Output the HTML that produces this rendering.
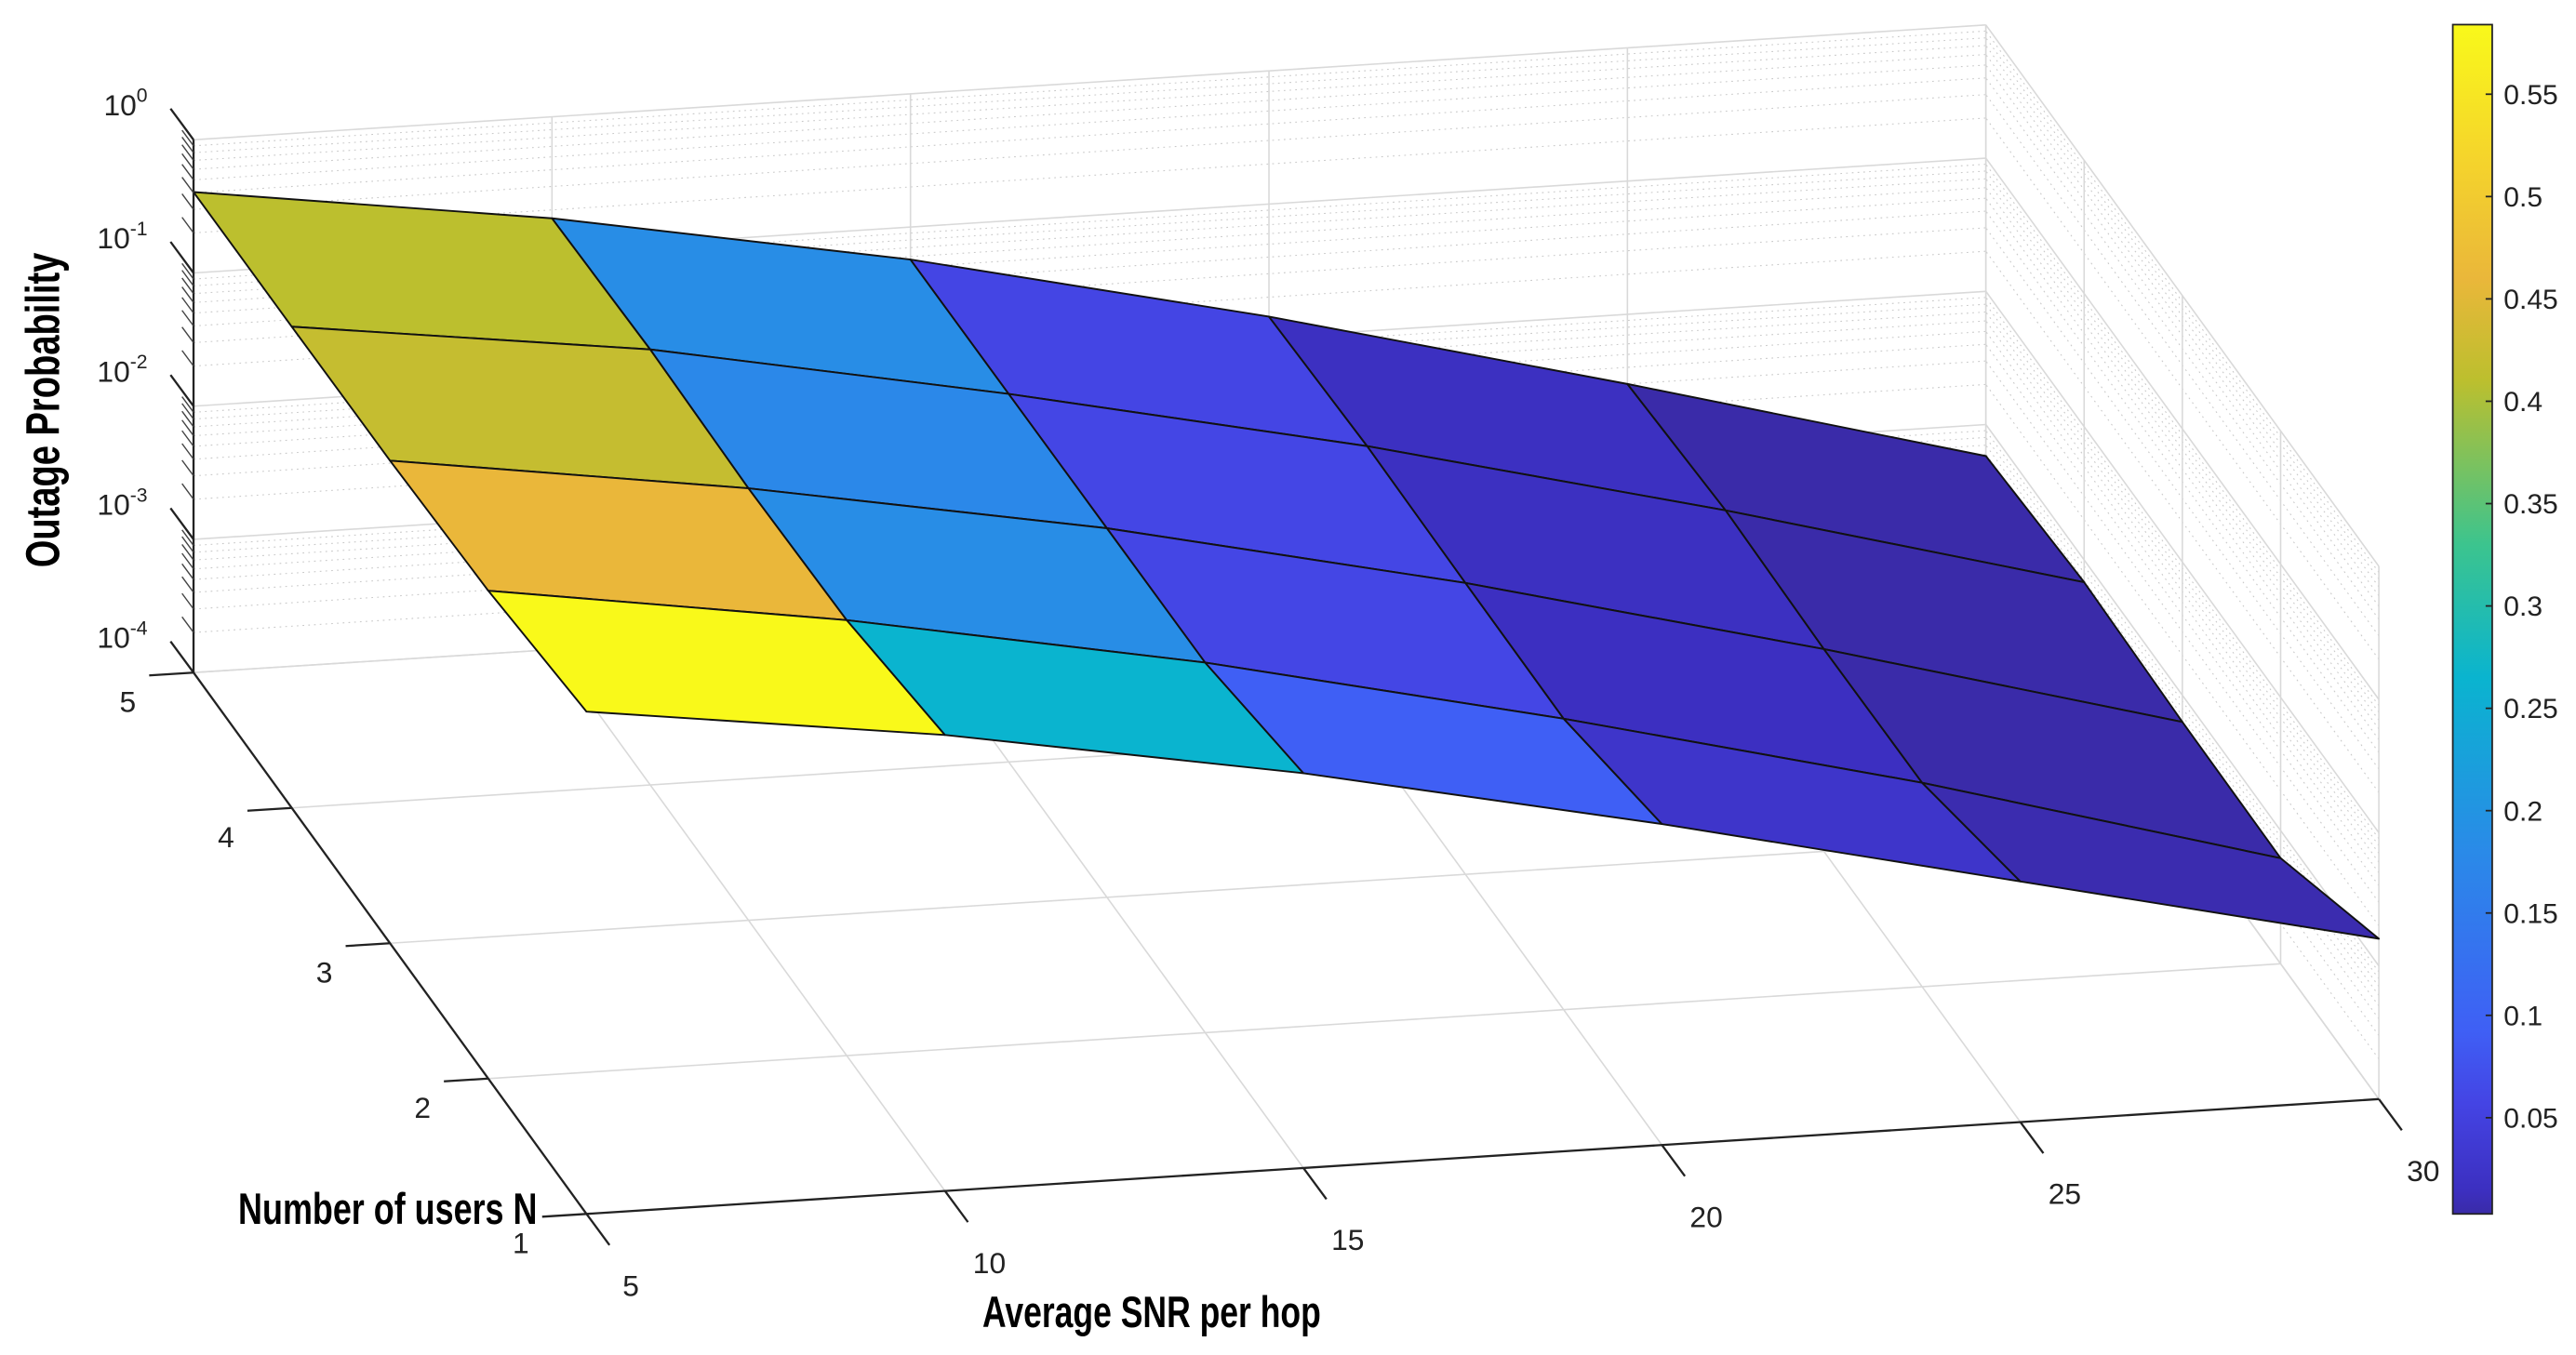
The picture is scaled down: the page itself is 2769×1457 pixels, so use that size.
<!DOCTYPE html>
<html><head><meta charset="utf-8">
<style>
html,body{margin:0;padding:0;background:#fff;}
svg{display:block;}
text{font-family:"Liberation Sans",sans-serif;}
.ttl{font-family:"Liberation Sans Narrow","Liberation Sans",sans-serif;font-weight:bold;}
</style></head>
<body>
<svg id="chart" xmlns="http://www.w3.org/2000/svg" width="2769" height="1457" viewBox="0 0 1568 826" preserveAspectRatio="none">
<defs>
<linearGradient id="parula" x1="0" y1="1" x2="0" y2="0"></linearGradient>
</defs>
<g id="grid"></g>
<g id="surface"></g>
<g id="axes"></g>
<text class="ttl" transform="translate(36,250) rotate(-90)" text-anchor="middle" font-size="29" textLength="192" lengthAdjust="spacingAndGlyphs">Outage Probability</text>
<text class="ttl" x="145" y="746" font-size="27" textLength="182" lengthAdjust="spacingAndGlyphs">Number of users N</text>
<text class="ttl" x="598" y="809" font-size="27" textLength="206" lengthAdjust="spacingAndGlyphs">Average SNR per hop</text>
<g id="cbar"></g>
</svg>
<script>
const snrValues = [5, 10, 15, 20, 25, 30];
const userValues = [1, 2, 3, 4, 5];
// outage probability P[N index][SNR index]
const outageN1 = [0.59, 0.265, 0.092, 0.0257, 0.0064, 0.0016];
const outageN2 = [0.46, 0.186, 0.060, 0.0153, 0.0034, 0.00062];
const outageN3 = [0.42, 0.175, 0.059, 0.0154, 0.0033, 0.00063];
const outageN4 = [0.41, 0.186, 0.058, 0.0158, 0.0035, 0.00068];
const outageN5 = [0.405, 0.173, 0.057, 0.0143, 0.0030, 0.00058];
const zTickExp = [0, -1, -2, -3, -4];
const cbarTicks = [0.05, 0.1, 0.15, 0.2, 0.25, 0.3, 0.35, 0.4, 0.45, 0.5, 0.55];
const cLim = [0.003, 0.584];
const cmapStops = [0.003, 0.0143, 0.057, 0.092, 0.18, 0.265, 0.33, 0.41, 0.46, 0.52, 0.584];
const cmapColors = ['#3a2ba8', '#3c2fc0', '#4444e4', '#3f5ff5', '#2a8ae8', '#0ab4cf', '#3cc48e', '#bcbf2e', '#eab73a', '#f5d52b', '#f9f91a'];

const rows = [outageN1, outageN2, outageN3, outageN4, outageN5];
const NS = 'http://www.w3.org/2000/svg';
function P(x, n, lz) {
  return [357 + (x - 5) / 5 * 218.2 - (n - 1) * 59.8,
          740 - (x - 5) / 5 * 14 - (n - 1) * 82.5 - (lz + 4) * 81.2];
}
function mk(tag, attrs, parent) {
  const e = document.createElementNS(NS, tag);
  for (const k in attrs) e.setAttribute(k, attrs[k]);
  parent.appendChild(e); return e;
}
function line(a, b, st, parent, name) {
  const e = mk('line', {x1: a[0], y1: a[1], x2: b[0], y2: b[1], style: st}, parent);
  
  
  return e;
}
const G = document.getElementById('grid');
const xMin = 5, xMax = 30, nMin = 1, nMax = 5, zMin = -4, zMax = 0;
const major = 'stroke:#d9d9d9;stroke-width:0.9';
const minor = 'stroke:#c8c8c8;stroke-width:0.6;stroke-dasharray:1 2.5';
const minorZ = [];
for (let d = -4; d < 0; d++) for (let m = 2; m <= 9; m++) minorZ.push(d + Math.log10(m));
minorZ.forEach(z => line(P(xMin, nMax, z), P(xMax, nMax, z), minor, G, 'back-wall-minor-grid'));
zTickExp.forEach(z => line(P(xMin, nMax, z), P(xMax, nMax, z), major, G, 'back-wall-major-grid'));
snrValues.forEach(x => line(P(x, nMax, zMin), P(x, nMax, zMax), major, G, 'back-wall-x-grid'));
minorZ.forEach(z => line(P(xMax, nMin, z), P(xMax, nMax, z), minor, G, 'side-wall-minor-grid'));
zTickExp.forEach(z => line(P(xMax, nMin, z), P(xMax, nMax, z), major, G, 'side-wall-major-grid'));
userValues.forEach(n => line(P(xMax, n, zMin), P(xMax, n, zMax), major, G, 'side-wall-n-grid'));
snrValues.forEach(x => line(P(x, nMin, zMin), P(x, nMax, zMin), major, G, 'floor-x-grid'));
userValues.forEach(n => line(P(xMin, n, zMin), P(xMax, n, zMin), major, G, 'floor-n-grid'));

function hex2rgb(h) { return [1, 3, 5].map(i => parseInt(h.substr(i, 2), 16)); }
function cmap(v) {
  v = Math.max(cmapStops[0], Math.min(cmapStops[cmapStops.length - 1], v));
  let i = 0;
  while (i < cmapStops.length - 2 && v > cmapStops[i + 1]) i++;
  const f = (v - cmapStops[i]) / (cmapStops[i + 1] - cmapStops[i]);
  const a = hex2rgb(cmapColors[i]), b = hex2rgb(cmapColors[i + 1]);
  return 'rgb(' + a.map((c, k) => Math.round(c + (b[k] - c) * f)).join(',') + ')';
}
const grad = document.getElementById('parula');
cmapStops.forEach((s, i) => {
  mk('stop', {offset: (s - cLim[0]) / (cLim[1] - cLim[0]), 'stop-color': cmapColors[i]}, grad);
});
const S = document.getElementById('surface');
for (let j = userValues.length - 2; j >= 0; j--) {
  for (let i = 0; i < snrValues.length - 1; i++) {
    const pts = [[i, j], [i + 1, j], [i + 1, j + 1], [i, j + 1]].map(([a, b]) =>
      P(snrValues[a], userValues[b], Math.log10(rows[b][a])));
    const poly = mk('polygon', {points: pts.map(p => p.join(',')).join(' '),
      fill: cmap(rows[j][i]), stroke: '#111', 'stroke-width': 1.1, 'stroke-linejoin': 'round'}, S);
    
    
  }
}
const A = document.getElementById('axes');
const ax = 'stroke:#222;stroke-width:1.3';
line(P(xMin, nMax, zMin), P(xMin, nMax, zMax), ax, A, 'z-axis-line');
line(P(xMin, nMin, zMin), P(xMin, nMax, zMin), ax, A, 'n-axis-line');
line(P(xMin, nMin, zMin), P(xMax, nMin, zMin), ax, A, 'x-axis-line');
function txt(s, x, y, size, anchor, name) {
  const t = mk('text', {x: x, y: y, 'font-size': size, 'text-anchor': anchor, fill: '#222'}, A);
  t.textContent = s;
  
  
  return t;
}
zTickExp.forEach(z => {
  const p = P(xMin, nMax, z);
  line(p, [p[0] - 14, p[1] - 19], ax, A, 'z-tick');
  const t = txt('10', p[0] - 28, p[1] - 15, 18, 'end', 'z-tick-label');
  const sp = document.createElementNS(NS, 'tspan');
  sp.setAttribute('dy', '-8'); sp.setAttribute('font-size', '12');
  sp.textContent = String(z);
  t.appendChild(sp);
});
minorZ.forEach(z => { const p = P(xMin, nMax, z); line(p, [p[0] - 7, p[1] - 9.5], 'stroke:#444;stroke-width:0.8', A, 'z-minor-tick'); });
userValues.forEach(n => {
  const p = P(xMin, n, zMin);
  line(p, [p[0] - 27, p[1] + 1.7], ax, A, 'n-tick');
  txt(String(n), p[0] - 40, p[1] + 24, 18, 'middle', 'n-tick-label');
});
snrValues.forEach(x => {
  const p = P(x, nMin, zMin);
  line(p, [p[0] + 14, p[1] + 19], ax, A, 'x-tick');
  txt(String(x), p[0] + 27, p[1] + 50, 18, 'middle', 'x-tick-label');
});
const C = document.getElementById('cbar');
const cbTop = 15, cbBot = 740, cbX = 1493, cbW = 24;
const cb = mk('rect', {x: cbX, y: cbTop, width: cbW, height: cbBot - cbTop, fill: 'url(#parula)', stroke: '#222', 'stroke-width': 1}, C);


function cy(v) { return cbBot - (v - cLim[0]) / (cLim[1] - cLim[0]) * (cbBot - cbTop); }
cbarTicks.forEach(v => {
  const y = cy(v);
  line([cbX + cbW - 4, y], [cbX + cbW, y], 'stroke:#222;stroke-width:1', C, 'colorbar-tick');
  const t = mk('text', {x: cbX + cbW + 7, y: y + 6, 'font-size': 17, fill: '#222'}, C);
  t.textContent = String(v);
  
  
});
</script>
</body></html>
